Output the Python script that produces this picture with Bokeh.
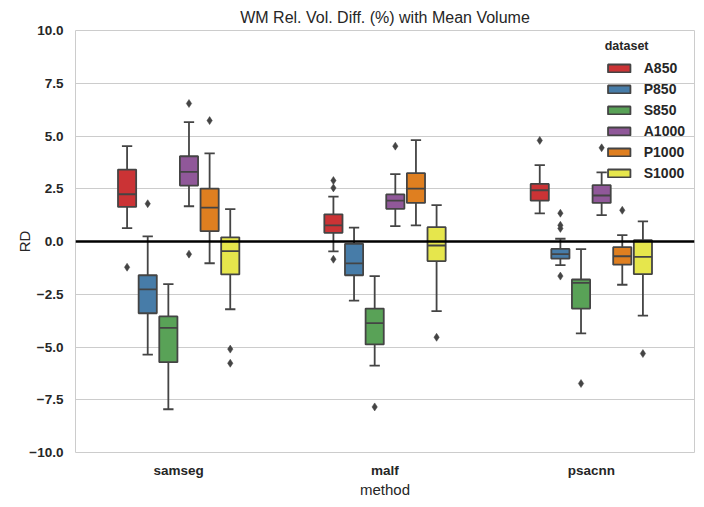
from bokeh.plotting import figure
from bokeh.models import ColumnDataSource, FixedTicker, Span
from bokeh.transform import dodge
from bokeh.embed import file_html
from bokeh.resources import INLINE

methods = ["samseg", "malf", "psacnn"]
datasets = ["A850", "P850", "S850", "A1000", "P1000", "S1000"]
colors = ["#cb3335", "#477ca8", "#59a257", "#905899", "#df7f20", "#e6e64c"]

# box statistics per dataset, one value per method (samseg, malf, psacnn)
whisk_lo = {
    "A850": [0.63, -0.47, 1.33],
    "P850": [-5.36, -2.80, -1.12],
    "S850": [-7.95, -5.88, -4.35],
    "A1000": [1.67, 0.73, 1.25],
    "P1000": [-1.03, 0.76, -2.05],
    "S1000": [-3.21, -3.30, -3.51],
}
q1 = {
    "A850": [1.64, 0.41, 1.94],
    "P850": [-3.40, -1.60, -0.81],
    "S850": [-5.72, -4.88, -3.18],
    "A1000": [2.65, 1.55, 1.83],
    "P1000": [0.49, 1.83, -1.10],
    "S1000": [-1.56, -0.93, -1.55],
}
median = {
    "A850": [2.24, 0.76, 2.43],
    "P850": [-2.27, -1.04, -0.60],
    "S850": [-4.09, -3.87, -1.96],
    "A1000": [3.30, 1.94, 2.18],
    "P1000": [1.61, 2.51, -0.70],
    "S1000": [-0.46, -0.19, -0.73],
}
q3 = {
    "A850": [3.41, 1.29, 2.73],
    "P850": [-1.60, -0.11, -0.35],
    "S850": [-3.55, -3.18, -1.80],
    "A1000": [4.04, 2.23, 2.67],
    "P1000": [2.51, 3.24, -0.27],
    "S1000": [0.20, 0.68, 0.06],
}
whisk_hi = {
    "A850": [4.52, 2.13, 3.62],
    "P850": [0.24, 0.66, 0.13],
    "S850": [-2.02, -1.64, -0.36],
    "A1000": [5.66, 3.19, 3.28],
    "P1000": [4.18, 4.80, 0.30],
    "S1000": [1.53, 1.72, 0.95],
}
# outliers: (method, value) per dataset
outliers = {
    "A850": [("samseg", -1.22), ("malf", 2.89), ("malf", 2.54), ("malf", -0.84), ("psacnn", 4.79)],
    "P850": [("samseg", 1.79), ("psacnn", 1.34), ("psacnn", 0.77), ("psacnn", 0.62), ("psacnn", -1.64)],
    "S850": [("malf", -7.84), ("psacnn", -6.73)],
    "A1000": [("samseg", 6.54), ("samseg", -0.60), ("malf", 4.52), ("psacnn", 4.44)],
    "P1000": [("samseg", 5.73), ("psacnn", 1.48)],
    "S1000": [("samseg", -5.10), ("samseg", -5.77), ("malf", -4.54), ("psacnn", -5.31)],
}

y_ticks = [-10.0, -7.5, -5.0, -2.5, 0.0, 2.5, 5.0, 7.5, 10.0]

FONT = "Liberation Sans"
GRAY = "#444444"
TEXT = "#262626"

p = figure(
    x_range=methods, y_range=(-10, 10),
    frame_width=619, frame_height=422,
    output_backend="svg", toolbar_location=None,
    title="WM Rel. Vol. Diff. (%) with Mean Volume",
    min_border_left=75, min_border_right=1, min_border_top=30, min_border_bottom=40,
)
p.x_range.range_padding = 0

step = 0.1
box_w = 0.088
cap_w = 0.05

for j, ds in enumerate(datasets):
    off = (j - 2.5) * step
    src = ColumnDataSource(dict(
        method=methods, lo=whisk_lo[ds], q1=q1[ds], med=median[ds], q3=q3[ds], hi=whisk_hi[ds],
    ))
    xc = dodge("method", off, range=p.x_range)
    p.segment(x0=xc, y0="lo", x1=xc, y1="q1", source=src, line_color=GRAY, line_width=1.8)
    p.segment(x0=xc, y0="q3", x1=xc, y1="hi", source=src, line_color=GRAY, line_width=1.8)
    xl = dodge("method", off - cap_w / 2, range=p.x_range)
    xr = dodge("method", off + cap_w / 2, range=p.x_range)
    p.segment(x0=xl, y0="lo", x1=xr, y1="lo", source=src, line_color=GRAY, line_width=1.8)
    p.segment(x0=xl, y0="hi", x1=xr, y1="hi", source=src, line_color=GRAY, line_width=1.8)
    p.vbar(x=xc, width=box_w, bottom="q1", top="q3", source=src,
           fill_color=colors[j], line_color=GRAY, line_width=1.8, legend_label=ds)
    ml = dodge("method", off - box_w / 2, range=p.x_range)
    mr = dodge("method", off + box_w / 2, range=p.x_range)
    p.segment(x0=ml, y0="med", x1=mr, y1="med", source=src, line_color=GRAY, line_width=1.8)
    osrc = ColumnDataSource(dict(
        method=[m for m, v in outliers[ds]], val=[v for m, v in outliers[ds]],
    ))
    p.scatter(x=xc, y="val", source=osrc, marker="diamond", size=8,
              fill_color=GRAY, line_color=GRAY, line_width=0.5)

p.add_layout(Span(location=0, dimension="width", line_color="black", line_width=2.5))

# axes styling
p.yaxis.ticker = FixedTicker(ticks=y_ticks)
p.yaxis.major_label_overrides = {t: f"{t:.1f}".replace("-", "\u2212") for t in y_ticks}
for ax in (p.xaxis, p.yaxis):
    ax.axis_line_color = None
    ax.major_tick_line_color = None
    ax.minor_tick_line_color = None
    ax.major_tick_out = 0
    ax.major_tick_in = 0
    ax.minor_tick_out = 0
    ax.major_label_text_font = FONT
    ax.major_label_text_font_style = "bold"
    ax.major_label_text_font_size = "13.5px"
    ax.major_label_text_color = TEXT
    ax.axis_label_text_font = FONT
    ax.axis_label_text_font_style = "normal"
    ax.axis_label_text_font_size = "15px"
    ax.axis_label_text_color = TEXT
p.xaxis.axis_label = "method"
p.yaxis.axis_label = "RD"
p.xaxis.major_label_standoff = 10
p.yaxis.major_label_standoff = 12
p.xaxis.axis_label_standoff = 0
p.yaxis.axis_label_standoff = -7

p.xgrid.grid_line_color = None
p.ygrid.grid_line_color = "#cccccc"
p.ygrid.grid_line_width = 1
p.outline_line_color = "#cccccc"
p.outline_line_width = 1

p.title.align = "center"
p.title.text_font = FONT
p.title.text_font_style = "normal"
p.title.text_font_size = "16px"
p.title.text_color = TEXT
p.title.standoff = 9

lg = p.legend[0]
lg.title = "dataset"
lg.title_text_font = FONT
lg.title_text_font_style = "bold"
lg.title_text_font_size = "12.5px"
lg.title_text_color = TEXT
lg.label_text_font = FONT
lg.label_text_font_style = "bold"
lg.label_text_font_size = "14px"
lg.label_text_color = TEXT
lg.location = "top_right"
lg.background_fill_alpha = 0
lg.border_line_alpha = 0
lg.padding = 0
lg.margin = 9
lg.glyph_width = 28
lg.glyph_height = 10
lg.label_height = 17
lg.spacing = 4
lg.label_standoff = 11
lg.title_standoff = 6

open("out.html", "w").write(file_html(p, INLINE))
